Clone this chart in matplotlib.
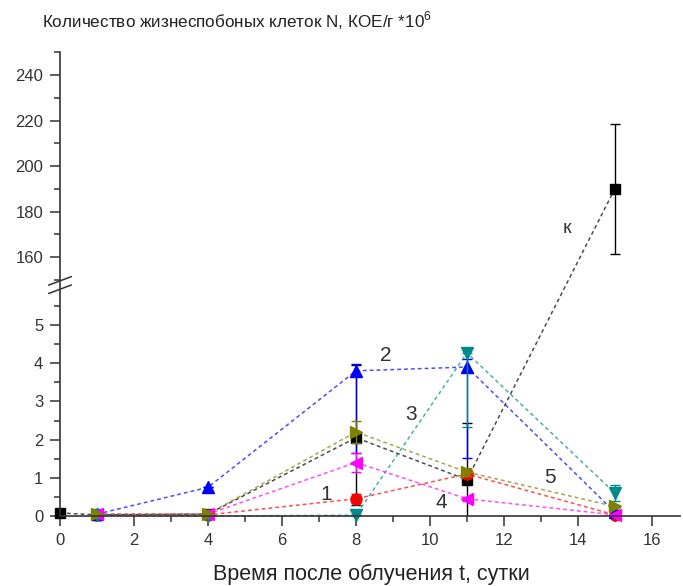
import matplotlib

matplotlib.use("Agg")

import matplotlib.pyplot as plt
import numpy as np
from matplotlib.ticker import FixedLocator

plt.rcParams["font.family"] = ["Liberation Sans Narrow", "Liberation Sans", "DejaVu Sans"]
plt.rcParams["mathtext.fontset"] = "custom"
plt.rcParams["mathtext.rm"] = "Liberation Sans"

# time points, days
days_k = [0, 1, 4, 8, 11, 15]
days = [1, 4, 8, 11, 15]

# control (K), CFU/g * 10^6
k_vals = [0.08, 0.03, 0.05, 2.05, 0.95, 190.0]
k_err_lo = [0, 0, 0, 1.75, 1.5, 28.5]
k_err_hi = [0, 0, 0, 1.9, 1.48, 28.5]

s1_vals = [0.03, 0.03, 0.45, 1.1, 0.03]
s1_err = [0, 0, 0.12, 0.1, 0]

s2_vals = [0.05, 0.75, 3.8, 3.9, 0.1]
s2_err_lo = [0, 0, 2.15, 2.38, 0.05]
s2_err_hi = [0, 0, 0.18, 0.2, 0.05]

s3_vals = [0.03, 0.0, 0.02, 4.27, 0.6]
s3_err_lo = [0, 0, 0, 1.95, 0.2]
s3_err_hi = [0, 0, 0, 0.0, 0.2]

s4_vals = [0.05, 0.05, 1.4, 0.45, 0.03]
s4_err = [0, 0, 0.25, 0.05, 0]

s5_vals = [0.05, 0.05, 2.2, 1.15, 0.25]
s5_err = [0, 0, 0.3, 0.1, 0.05]

x_major = [0, 2, 4, 6, 8, 10, 12, 14, 16]
x_minor = [1, 3, 5, 7, 9, 11, 13, 15]
y_major = [0, 1, 2, 3, 4, 5, 160, 180, 200, 220, 240]
y_minor = [0.5, 1.5, 2.5, 3.5, 4.5, 5.5, 150, 170, 190, 210, 230, 250]

# broken axis: 0..5.85 linear, gap, 150..250 compressed
Y1, Y2, G, K = 5.85, 150.0, 6.185, 0.05956


def fwd(y):
    y = np.asarray(y, dtype=float)
    mid = Y1 + (y - Y1) * (G - Y1) / (Y2 - Y1)
    return np.where(y <= Y1, y, np.where(y >= Y2, G + (y - Y2) * K, mid))


def inv(v):
    v = np.asarray(v, dtype=float)
    mid = Y1 + (v - Y1) * (Y2 - Y1) / (G - Y1)
    return np.where(v <= Y1, v, np.where(v >= G, Y2 + (v - G) / K, mid))


fig = plt.figure(figsize=(6.83, 5.86), dpi=100)
ax = fig.add_axes([60 / 683, 1 - 516 / 586, 620 / 683, (516 - 52.25) / 586])
ax.set_yscale("function", functions=(fwd, inv))
ax.set_xlim(0, 16.76)
ax.set_ylim(0, 250)

series = [
    (days_k, k_vals, [k_err_lo, k_err_hi], "#000000", "s", 7),
    (days, s1_vals, [s1_err, s1_err], "#ff0000", "o", 8),
    (days, s2_vals, [s2_err_lo, s2_err_hi], "#0000ff", "^", 9),
    (days, s3_vals, [s3_err_lo, s3_err_hi], "#008b8b", "v", 9),
    (days, s4_vals, [s4_err, s4_err], "#ff00ff", "<", 9),
    (days, s5_vals, [s5_err, s5_err], "#808000", ">", 9),
]
for x, y, err, color, marker, ms in series:
    ax.plot(x, y, linestyle=(0, (2.5, 2)), color=color, lw=1.1, alpha=0.7, clip_on=False)
    ax.errorbar(x, y, yerr=err, fmt="none", ecolor=color, elinewidth=1.0, capsize=3.5, capthick=1.0)
    ax.plot(x, y, linestyle="none", marker=marker, color=color, ms=ms, clip_on=False)

for sp in ["top", "right"]:
    ax.spines[sp].set_visible(False)
for sp in ["left", "bottom"]:
    ax.spines[sp].set_color("#333333")
    ax.spines[sp].set_linewidth(1.2)

ax.xaxis.set_major_locator(FixedLocator(x_major))
ax.xaxis.set_minor_locator(FixedLocator(x_minor))
ax.yaxis.set_major_locator(FixedLocator(y_major))
ax.yaxis.set_minor_locator(FixedLocator(y_minor))
ax.set_xticklabels([str(v) for v in x_major])
ax.set_yticklabels([str(v) for v in y_major])
ax.tick_params(which="major", direction="out", length=7, width=1.1, color="#333333",
               labelsize=12, labelcolor="#333333", pad=5)
ax.tick_params(which="minor", direction="out", length=4.5, width=1.1, color="#333333")

# break marks on the y axis
for yb in [0.489, 0.507]:
    ax.plot([-0.018, 0.018], [yb - 0.009, yb + 0.009], transform=ax.transAxes,
            color="#333333", lw=1.1, clip_on=False)

for txt, xt, yt in [("1", 7.2, 0.55), ("2", 8.8, 4.2), ("3", 9.5, 2.65), ("4", 10.3, 0.35), ("5", 13.25, 1.0)]:
    ax.text(xt, yt, txt, fontsize=15, color="#333333", ha="center", va="center")
ax.text(13.7, 172.5, "к", fontsize=14, color="#333333", ha="center", va="center")

fig.text(42 / 683, 1 - 27 / 586, "Количество жизнеспобоных клеток N, КОЕ/г *10$^6$",
         fontsize=12.3, color="#222222", ha="left", va="baseline")
fig.text(371 / 683, 1 - 580 / 586, "Время после облучения t, сутки",
         fontsize=15.5, color="#222222", ha="center", va="baseline")

fig.savefig("out.png", dpi=100)
